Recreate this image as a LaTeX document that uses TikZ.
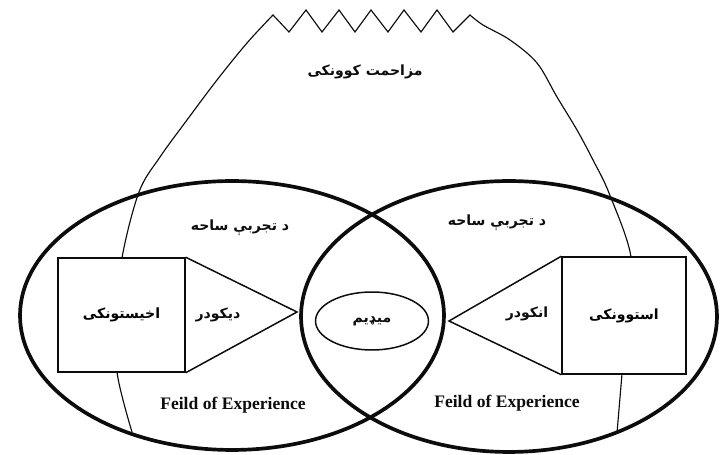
\documentclass[tikz,border=0pt]{standalone}
\usepackage{fontspec}
\setmainfont{Liberation Serif}
\newfontfamily\arabicfont[Script=Arabic]{DejaVu Sans}
\TeXXeTstate=1
\definecolor{ink}{RGB}{12,12,12}
\usetikzlibrary{shapes.geometric}
\newcommand{\ps}[1]{{\arabicfont\bfseries\beginR #1\endR}}

\begin{document}
\begin{tikzpicture}[x=0.02cm, y=-0.02cm,
    field/.style={draw=ink, line width=2.1pt, ellipse, inner sep=0pt},
    blockbox/.style={draw=ink, line width=0.85pt, fill=white, rectangle, inner sep=0pt, font=\fontsize{8}{9}\selectfont},
    coder/.style={draw=ink, line width=0.85pt},
    noise/.style={draw=ink, line width=0.65pt},
    fa/.style={font=\fontsize{8}{9}\selectfont, text=ink},
    en/.style={font=\fontsize{10}{12}\bfseries, text=ink}]
  \useasboundingbox (0,0) rectangle (728,455);
  % noise arch with the zigzag on top
  \draw[noise] plot[smooth, tension=0.55] coordinates {(132,432) (117,372) (118,315) (122,258) (139,192) (160,157) (187,120) (217,80) (247,43) (273,15)}
    -- (289,32) -- (306,10) -- (322,32) -- (339,10) -- (355,32) -- (371,10) -- (388,32) -- (404,10) -- (421,32) -- (437,10) -- (453,32) -- (470,15)
    -- plot[smooth, tension=0.55] coordinates {(470,15) (483,25) (510,40) (537,63) (557,97) (577,130) (593,160) (609,193) (631,257) (627,315) (622,374) (617,433)};
  \node[fa] (noiseLbl) at (365,72) {\ps{مزاحمت کوونکی}};
  % two fields of experience
  \node[field, minimum width=8.48cm, minimum height=5.38cm] (fieldL) at (232,315.5) {};
  \node[field, minimum width=8.32cm, minimum height=5.42cm] (fieldR) at (509,316.5) {};
  \node[fa] (titleL) at (240,228) {\ps{د تجربې ساحه}};
  \node[fa] (titleR) at (497,223) {\ps{د تجربې ساحه}};
  \node[en] (expL) at (233,405) {Feild of Experience};
  \node[en] (expR) at (507,403) {Feild of Experience};
  % receiver side
  \node[blockbox, minimum width=2.54cm, minimum height=2.28cm] (rcv) at (121.5,315) {\ps{اخیستونکی}};
  \coordinate (decTip) at (297,312);
  \draw[coder] (rcv.north east) -- (decTip) -- (rcv.south east);
  \node[fa] (decLbl) at (218,315) {\ps{دیکودر}};
  % sender side
  \node[blockbox, minimum width=2.48cm, minimum height=2.34cm] (snd) at (624,315.5) {\ps{استوونکی}};
  \coordinate (encTip) at (449,321);
  \draw[coder] (snd.north west) -- (encTip) -- (snd.south west);
  \node[fa] (encLbl) at (527,314) {\ps{انکودر}};
  % medium
  \node[draw=ink, line width=0.85pt, ellipse, inner sep=0pt, minimum width=2.26cm, minimum height=1.16cm, fa] (medium) at (372,321) {\ps{میډیم}};
\end{tikzpicture}
\end{document}
